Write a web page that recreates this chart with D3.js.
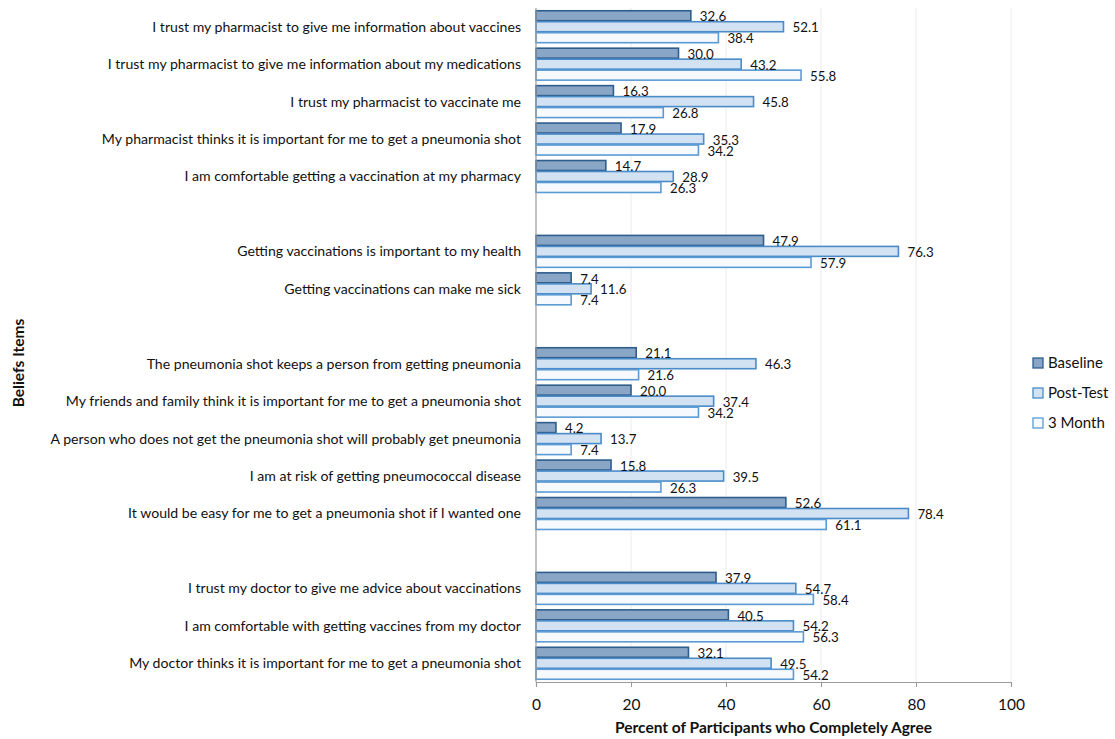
<!DOCTYPE html>
<html>
<head>
<meta charset="utf-8">
<script src="https://cdn.jsdelivr.net/npm/d3@7"></script>
<style>
  html, body { margin: 0; padding: 0; background: #fff; }
  svg { display: block; }
  text { font-family: Lato, "Open Sans", "Liberation Sans", sans-serif; fill: #111; }
</style>
</head>
<body>
<svg id="chart" width="1115" height="739"></svg>
<script>
// ---- Data ----
const categories = [
  "I trust my pharmacist to give me information about vaccines",
  "I trust my pharmacist to give me information about my medications",
  "I trust my pharmacist to vaccinate me",
  "My pharmacist thinks it is important for me to get a pneumonia shot",
  "I am comfortable getting a vaccination at my pharmacy",
  "",
  "Getting vaccinations is important to my health",
  "Getting vaccinations can make me sick",
  "",
  "The pneumonia shot keeps a person from getting pneumonia",
  "My friends and family think it is important for me to get a pneumonia shot",
  "A person who does not get the pneumonia shot will probably get pneumonia",
  "I am at risk of getting pneumococcal disease",
  "It would be easy for me to get a pneumonia shot if I wanted one",
  "",
  "I trust my doctor to give me advice about vaccinations",
  "I am comfortable with getting vaccines from my doctor",
  "My doctor thinks it is important for me to get a pneumonia shot"
];
const seriesNames = ["Baseline", "Post-Test", "3 Month"];
const baseline = [32.6, 30.0, 16.3, 17.9, 14.7, null, 47.9, 7.4, null, 21.1, 20.0, 4.2, 15.8, 52.6, null, 37.9, 40.5, 32.1];
const postTest = [52.1, 43.2, 45.8, 35.3, 28.9, null, 76.3, 11.6, null, 46.3, 37.4, 13.7, 39.5, 78.4, null, 54.7, 54.2, 49.5];
const threeMonth = [38.4, 55.8, 26.8, 34.2, 26.3, null, 57.9, 7.4, null, 21.6, 34.2, 7.4, 26.3, 61.1, null, 58.4, 56.3, 54.2];
const xTicks = [0, 20, 40, 60, 80, 100];
const xTitle = "Percent of Participants who Completely Agree";
const yTitle = "Beliefs Items";

const seriesValues = [baseline, postTest, threeMonth];
const fills = ["#8aa6c6", "#d2e2f2", "#f6f9fd"];
const strokes = ["#2f5d8c", "#4a8bc8", "#5b9bd5"];

const svg = d3.select("#chart");
const mLeft = 536, mRight = 1011, mTop = 8, mBottom = 682;

const ids = categories.map((c, i) => "r" + i);
const x = d3.scaleLinear().domain([0, 100]).range([mLeft, mRight]);
const y = d3.scaleBand().domain(ids).range([mTop, mBottom]).paddingInner(0.12).paddingOuter(0.06);
const ySub = d3.scaleBand().domain(seriesNames).range([0, y.bandwidth()]);

// gridlines
svg.append("g").selectAll("line").data(xTicks.filter(t => t > 0)).join("line")
  .attr("x1", d => x(d)).attr("x2", d => x(d))
  .attr("y1", mTop).attr("y2", mBottom)
  .attr("stroke", "#ececec").attr("stroke-width", 1);

// bars
const rows = categories.map((c, i) => ({ id: ids[i], name: c, vals: seriesValues.map(s => s[i]) }));
const rowG = svg.append("g").selectAll("g").data(rows.filter(r => r.name !== "")).join("g")
  .attr("transform", d => `translate(0,${y(d.id)})`);

rowG.selectAll("rect").data(d => d.vals.map((v, k) => ({ v, k }))).join("rect")
  .attr("x", x(0))
  .attr("y", d => ySub(seriesNames[d.k]) + 0.5)
  .attr("width", d => x(d.v) - x(0))
  .attr("height", ySub.bandwidth() - 1)
  .attr("fill", d => fills[d.k])
  .attr("stroke", d => strokes[d.k])
  .attr("stroke-width", 1.6);

rowG.selectAll("text.val").data(d => d.vals.map((v, k) => ({ v, k }))).join("text")
  .attr("class", "val")
  .attr("x", d => x(d.v) + 9)
  .attr("y", d => ySub(seriesNames[d.k]) + ySub.bandwidth() / 2 + 1)
  .attr("dy", "0.35em")
  .attr("font-size", 13.3)
  .text(d => d3.format(".1f")(d.v));

// category labels
svg.append("g").selectAll("text").data(rows.filter(r => r.name !== "")).join("text")
  .attr("x", 521)
  .attr("y", d => y(d.id) + y.bandwidth() / 2)
  .attr("dy", "0.35em")
  .attr("text-anchor", "end")
  .attr("font-size", 14.1)
  .text(d => d.name);

// left axis line
svg.append("line").attr("x1", mLeft).attr("x2", mLeft).attr("y1", mTop).attr("y2", mBottom)
  .attr("stroke", "#9a9a9a").attr("stroke-width", 1.2);

// x axis
const xAxis = svg.append("g").attr("transform", `translate(0,${mBottom})`)
  .call(d3.axisBottom(x).tickValues(xTicks).tickSize(5).tickPadding(12).tickFormat(d3.format("d")));
xAxis.select(".domain").attr("stroke", "#9a9a9a").attr("stroke-width", 1.2);
xAxis.selectAll(".tick line").attr("stroke", "#9a9a9a");
xAxis.selectAll(".tick text").attr("font-size", 15.5).attr("font-family", "Lato, 'Open Sans', sans-serif").attr("fill", "#111");

svg.append("text").attr("x", (mLeft + mRight) / 2).attr("y", 733)
  .attr("text-anchor", "middle").attr("font-size", 15.5).attr("font-weight", "bold")
  .text(xTitle);

svg.append("text").attr("transform", "translate(24,363) rotate(-90)")
  .attr("text-anchor", "middle").attr("font-size", 15.5).attr("font-weight", "bold")
  .text(yTitle);

// legend
const leg = svg.append("g").selectAll("g").data(seriesNames).join("g")
  .attr("transform", (d, i) => `translate(1033,${363 + i * 30})`);
leg.append("rect").attr("x", 0).attr("y", -5).attr("width", 10).attr("height", 10)
  .attr("fill", (d, i) => fills[i]).attr("stroke", (d, i) => strokes[i]).attr("stroke-width", 1.3);
leg.append("text").attr("x", 15).attr("y", 0).attr("dy", "0.35em").attr("font-size", 15).text(d => d);
</script>
</body>
</html>
